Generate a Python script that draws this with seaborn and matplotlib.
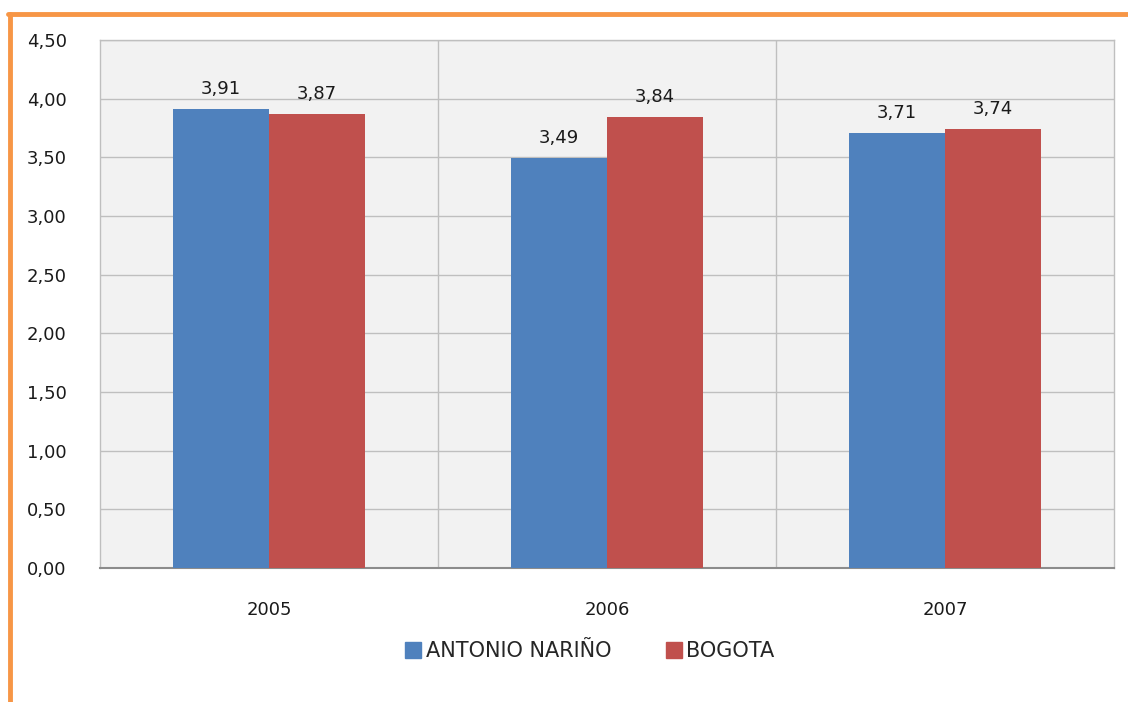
import pandas as pd
import seaborn as sns
import matplotlib

matplotlib.use("Agg")

import matplotlib.pyplot as plt
from matplotlib.lines import Line2D

years = ["2005", "2006", "2007"]
antonio_narino = [3.91, 3.49, 3.71]
bogota = [3.87, 3.84, 3.74]
series_names = ["ANTONIO NARIÑO", "BOGOTA"]
y_ticks = [0.0, 0.5, 1.0, 1.5, 2.0, 2.5, 3.0, 3.5, 4.0, 4.5]

BLUE = "#4F81BD"
RED = "#C0504D"
ORANGE = "#F79646"


def fmt(v):
    return f"{v:.2f}".replace(".", ",")


df = pd.DataFrame(
    {
        "year": years * 2,
        "value": antonio_narino + bogota,
        "serie": [series_names[0]] * 3 + [series_names[1]] * 3,
    }
)

sns.set_theme(style="white")
plt.rcParams["font.family"] = ["DejaVu Sans"]

fig = plt.figure(figsize=(11.28, 7.02), dpi=100)
ax = fig.add_axes([0.0887, 0.191, 0.899, 0.752])
ax.set_facecolor("#F2F2F2")

sns.barplot(
    data=df,
    x="year",
    y="value",
    hue="serie",
    palette=[BLUE, RED],
    saturation=1,
    width=0.568,
    gap=0,
    ax=ax,
    legend=False,
    zorder=3,
    edgecolor="none",
)

for cont in ax.containers:
    ax.bar_label(cont, labels=[fmt(v) for v in cont.datavalues],
                 padding=8, fontsize=13, color="#1a1a1a")

ax.set_xlim(-0.5, 2.5)
ax.set_ylim(0, 4.5)
ax.set_yticks(y_ticks)
ax.set_yticklabels([fmt(t) for t in y_ticks])
ax.set_xticks([0.5, 1.5], minor=True)
ax.grid(axis="y", which="major", color="#BFBFBF", linewidth=1, zorder=0)
ax.grid(axis="x", which="minor", color="#BFBFBF", linewidth=1, zorder=0)
ax.grid(axis="x", which="major", visible=False)
ax.set_axisbelow(True)
ax.tick_params(axis="y", length=0, pad=24, labelsize=13, colors="#1a1a1a")
ax.tick_params(axis="x", which="major", length=0, pad=24, labelsize=13, colors="#1a1a1a")
ax.tick_params(axis="x", which="minor", length=0)
ax.set_xlabel("")
ax.set_ylabel("")
for side in ["top", "right", "left"]:
    ax.spines[side].set_color("#BFBFBF")
    ax.spines[side].set_linewidth(1)
ax.spines["bottom"].set_color("#8C8C8C")
ax.spines["bottom"].set_linewidth(1.5)

handles = [
    Line2D([], [], marker="s", linestyle="none", markersize=11,
           markerfacecolor=c, markeredgecolor=c)
    for c in (BLUE, RED)
]
fig.legend(handles, series_names, loc="center", bbox_to_anchor=(0.523, 0.072),
           ncol=2, frameon=False, fontsize=15, handletextpad=0.2,
           columnspacing=2.6, handlelength=0.8)

# orange frame on top and left
fig.add_artist(Line2D([0.007, 1.0], [0.98, 0.98], transform=fig.transFigure,
                      color=ORANGE, linewidth=3.5))
fig.add_artist(Line2D([0.0085, 0.0085], [0.0, 0.98], transform=fig.transFigure,
                      color=ORANGE, linewidth=3.5))

fig.savefig("out.png", dpi=100)
